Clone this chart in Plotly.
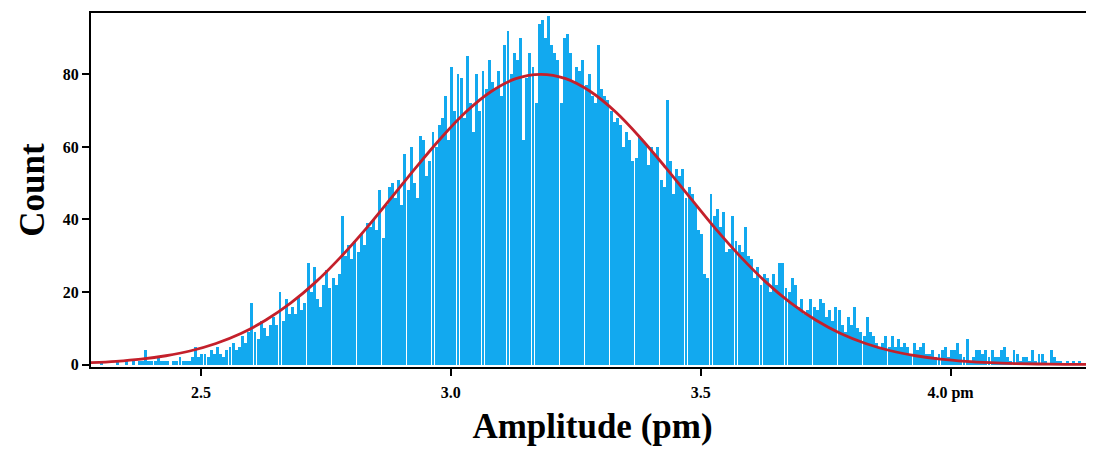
import numpy as np
import plotly.graph_objects as go

# histogram: bins of 0.00625 pm starting at 2.28 pm, 16 bins per 0.1 pm row
BIN_START = 2.28
BIN_WIDTH = 0.00625

counts = [
    0, 0, 0, 1, 0, 0, 0, 0, 1, 0, 0, 1, 0, 1, 0, 1,            # 2.28-2.38
    1, 4, 1, 1, 1, 2, 1, 1, 1, 0, 1, 1, 2, 1, 1, 1,            # 2.38-2.48
    2, 5, 2, 3, 3, 2, 4, 3, 5, 3, 2, 4, 5, 6, 4, 5,            # 2.48-2.58
    8, 6, 9, 17, 9, 7, 12, 10, 8, 11, 13, 11, 20, 12, 18, 14,  # 2.58-2.68
    16, 14, 19, 15, 17, 28, 20, 27, 18, 16, 22, 26, 21, 24, 22, 25,
    41, 30, 33, 29, 34, 31, 36, 33, 39, 38, 40, 37, 48, 35, 44, 49,
    50, 46, 51, 44, 58, 48, 60, 50, 46, 63, 62, 52, 56, 64, 60, 66,
    68, 74, 62, 82, 70, 80, 79, 68, 85, 72, 64, 80, 70, 81, 76, 84,
    78, 76, 81, 74, 88, 92, 80, 86, 84, 90, 62, 79, 86, 82, 72, 94,
    95, 90, 96, 88, 86, 84, 72, 90, 91, 86, 78, 82, 81, 84, 77, 80,
    74, 72, 88, 76, 74, 73, 70, 67, 68, 66, 60, 64, 62, 56, 57, 63,
    62, 61, 55, 60, 58, 60, 51, 49, 73, 56, 47, 54, 52, 54, 46, 49,
    47, 44, 37, 36, 25, 24, 47, 41, 43, 38, 42, 31, 32, 41, 34, 33,
    31, 38, 30, 29, 24, 27, 22, 25, 24, 20, 25, 22, 28, 28, 21, 20,
    24, 22, 16, 18, 14, 15, 18, 16, 15, 18, 17, 13, 15, 12, 16, 15,
    11, 9, 13, 11, 16, 10, 9, 8, 13, 9, 8, 6, 5, 6, 8, 5,
    8, 5, 7, 5, 6, 5, 3, 6, 4, 5, 6, 3, 3, 4, 2, 3,
    4, 5, 2, 4, 4, 6, 3, 2, 7, 1, 2, 4, 4, 3, 4, 2,
    4, 2, 2, 4, 5, 2, 1, 4, 3, 1, 2, 2, 1, 4, 1, 3,
    3, 1, 0, 4, 2, 1, 1, 0, 1, 0, 1, 0, 1, 0, 0, 1,            # 4.18-4.28
    0, 1,
]

# gaussian fit curve
fit_x = [2.28, 2.33, 2.38, 2.43, 2.48, 2.53, 2.58, 2.63, 2.68, 2.73, 2.78,
         2.83, 2.88, 2.93, 2.98, 3.03, 3.08, 3.13, 3.18, 3.23, 3.28, 3.33,
         3.38, 3.43, 3.48, 3.53, 3.58, 3.63, 3.68, 3.73, 3.78, 3.83, 3.88,
         3.93, 3.98, 4.03, 4.08, 4.13, 4.18, 4.23, 4.29]
fit_y = [0.53, 0.91, 1.51, 2.45, 3.83, 5.83, 8.58, 12.3, 17.0, 22.8, 29.7,
         37.4, 45.8, 54.3, 62.4, 69.6, 75.2, 78.8, 80.0, 78.8, 75.2, 69.6,
         62.4, 54.3, 45.8, 37.4, 29.7, 22.8, 17.0, 12.3, 8.58, 5.83, 3.83,
         2.45, 1.51, 0.91, 0.53, 0.30, 0.17, 0.09, 0.04]

x_ticks = [2.5, 3.0, 3.5, 4.0]
x_ticklabels = ["2.5", "3.0", "3.5", "4.0 pm"]
y_ticks = [0, 20, 40, 60, 80]

centers = BIN_START + BIN_WIDTH * (np.arange(len(counts)) + 0.5)

SERIF = "Times New Roman, Liberation Serif, serif"

fig = go.Figure()
fig.add_trace(go.Bar(
    x=centers, y=counts, width=BIN_WIDTH * 0.94,
    marker=dict(color="#12a9ef", line=dict(width=0)),
    hoverinfo="x+y",
))
fig.add_trace(go.Scatter(
    x=fit_x, y=fit_y, mode="lines",
    line=dict(color="#c4202b", width=2.8, shape="spline"),
))

# page has an 8px body margin, so the figure is 8px smaller than the window
fig.update_layout(
    width=1086, height=441,
    margin=dict(l=83, r=0, t=5, b=82),
    paper_bgcolor="white", plot_bgcolor="white",
    showlegend=False,
    bargap=0,
    xaxis=dict(
        range=[2.28, 4.287],
        tickvals=x_ticks, ticktext=x_ticklabels,
        ticks="outside", ticklen=7, tickwidth=1.5, tickcolor="black",
        ticklabelstandoff=3,
        showline=True, linecolor="black", linewidth=2, mirror=True,
        showgrid=False, zeroline=False,
        tickfont=dict(family=SERIF, size=16, color="black", weight="bold"),
        title=dict(text="Amplitude (pm)", standoff=12,
                   font=dict(family=SERIF, size=35, color="black", weight="bold")),
    ),
    yaxis=dict(
        range=[-0.65, 96.9],
        tickvals=y_ticks,
        ticks="outside", ticklen=7, tickwidth=1.5, tickcolor="black",
        showline=True, linecolor="black", linewidth=2,
        showgrid=False, zeroline=False,
        tickfont=dict(family=SERIF, size=16, color="black", weight="bold"),
        title=dict(text="Count", standoff=8,
                   font=dict(family=SERIF, size=35, color="black", weight="bold")),
    ),
)

fig.write_html("out.html")
